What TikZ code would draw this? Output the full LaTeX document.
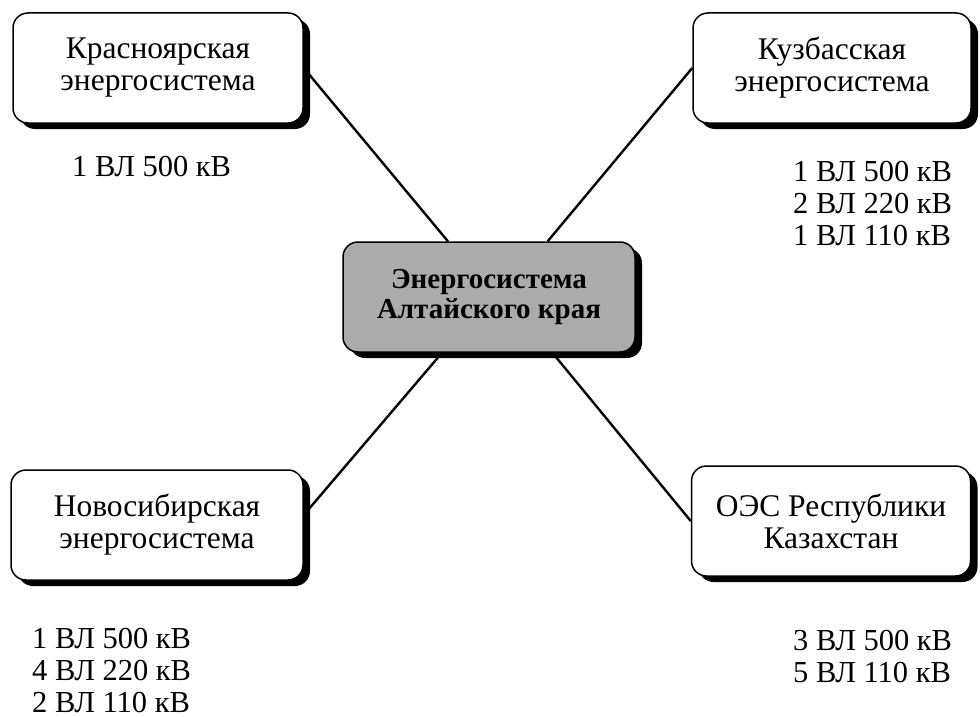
\documentclass[tikz,border=0pt]{standalone}
\usepackage{fontspec}
\setmainfont{Liberation Serif}
\usetikzlibrary{shadows,calc}

\begin{document}
\begin{tikzpicture}[x=1pt,y=-1pt,
  box/.style={draw=black, line width=1.5pt, rounded corners=15pt, fill=white,
    minimum width=#1, minimum height=110pt, align=center, inner sep=0pt,
    font=\fontsize{31.5}{32}\selectfont,
    drop shadow={shadow xshift=7pt, shadow yshift=-6pt, fill=black, opacity=1}},
  hub/.style={box=292pt, fill=black!33, font=\fontsize{29}{30}\selectfont\bfseries},
  wire/.style={line width=2.4pt, black},
  lbl/.style={anchor=west, align=left, inner sep=0pt, font=\fontsize{30.5}{32}\selectfont}
]
\useasboundingbox (0,0) rectangle (980,717);

\node[box=290pt] (tl) at (158,68) {Красноярская\\энергосистема};
\node[box=278pt] (tr) at (832,68) {Кузбасская\\энергосистема};
\node[box=292pt] (bl) at (157,525) {Новосибирская\\энергосистема};
\node[box=279pt] (br) at (831,521) {ОЭС Республики\\Казахстан};
\node[hub] (c) at (489,297) {Энергосистема\\Алтайского края};

\node[lbl] (ltl) at (72,167) {1 ВЛ 500 кВ};
\node[lbl] (ltr) at (793,204) {1 ВЛ 500 кВ\\2 ВЛ 220 кВ\\1 ВЛ 110 кВ};
\node[lbl] (lbl) at (32,670) {1 ВЛ 500 кВ\\4 ВЛ 220 кВ\\2 ВЛ 110 кВ};
\node[lbl] (lbr) at (793,656) {3 ВЛ 500 кВ\\5 ВЛ 110 кВ};

\draw[wire] (tl.east) -- ($(c.north west)!0.36!(c.north east)$);
\draw[wire] (tr.west) -- ($(c.north west)!0.70!(c.north east)$);
\draw[wire] ($(bl.east)+(0,-10)$) -- ($(c.south west)!0.34!(c.south east)$);
\draw[wire] (br.west) -- ($(c.south west)!0.716!(c.south east)$);
\end{tikzpicture}
\end{document}
